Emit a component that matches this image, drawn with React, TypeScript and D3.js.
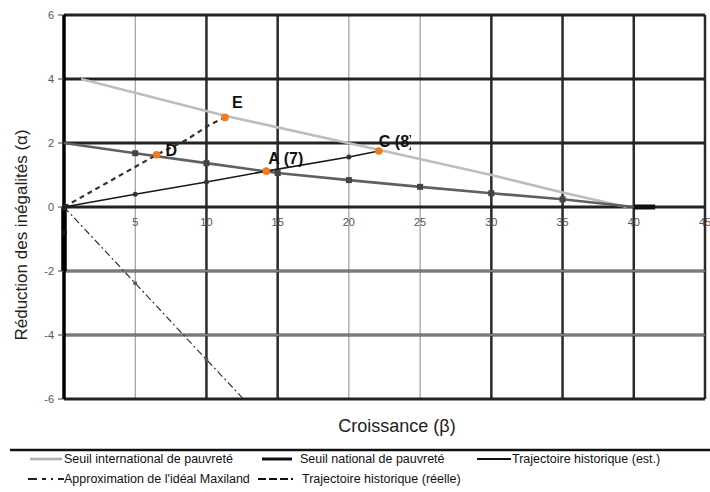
import React from "react";
import * as d3 from "d3";

const xTicks = [5, 10, 15, 20, 25, 30, 35, 40, 45];
const yTicks = [-6, -4, -2, 0, 2, 4, 6];
const thickVertical = [10, 15, 30, 35, 40, 45];
const thickHorizontal = [6, 4, 2, 0, -6];

const intlX = [1.2, 11.3, 22, 30, 35, 39.5];
const intlY = [4, 2.85, 1.8, 1.0, 0.45, 0];

const nationalX = [0, 5, 10, 15, 20, 25, 30, 35, 40];
const nationalY = [2, 1.68, 1.37, 1.06, 0.84, 0.63, 0.43, 0.24, 0];

const estX = [0, 5, 10, 14.2, 20, 22.1];
const estY = [0, 0.4, 0.78, 1.12, 1.56, 1.75];

const reelX = [0, 6.5, 8.6, 10.2, 11.3];
const reelY = [0, 1.63, 2.1, 2.56, 2.8];

const maxiX = [0, 5, 10, 12.6];
const maxiY = [0, -2.38, -4.77, -6];

const pointNames = ["A (7)", "C (8)", "D", "E"];
const pointX = [14.2, 22.1, 6.5, 11.3];
const pointY = [1.12, 1.75, 1.63, 2.8];
const labelDx = [2, 0, 9, 7];
const labelDy = [-7, -4, 1, -9];

const legendRow1 = ["Seuil international de pauvreté", "Seuil national de pauvreté", "Trajectoire historique (est.)"];
const legendRow2 = ["Approximation de l'idéal Maxiland", "Trajectoire historique (réelle)"];

const FONT = "Liberation Sans, Arial, sans-serif";

export default function App() {
  const x = d3.scaleLinear().domain([0, 45]).range([64, 705]);
  const y = d3.scaleLinear().domain([-6, 6]).range([399, 15]);
  const line = d3.line<[number, number]>().x((d) => x(d[0])).y((d) => y(d[1]));
  const zip = (a: number[], b: number[]) => a.map((v, i) => [v, b[i]] as [number, number]);

  const intl = zip(intlX, intlY);
  const nat = zip(nationalX, nationalY);
  const est = zip(estX, estY);
  const reel = zip(reelX, reelY);
  const maxi = zip(maxiX, maxiY);

  return (
    <svg width={710} height={492} style={{ position: "absolute", left: 0, top: 0, background: "#fff" }} fontFamily={FONT}>
      <defs>
        <clipPath id="plotclip">
          <rect x={x(0) - 2} y={y(6) - 2} width={x(45) - x(0) + 6} height={y(-6) - y(6) + 4} />
        </clipPath>
        <clipPath id="cclip">
          <rect x={0} y={0} width={x(25) - 9} height={492} />
        </clipPath>
      </defs>
      {/* vertical gridlines */}
      {xTicks.map((t) => (
        <line key={"v" + t} x1={x(t)} x2={x(t)} y1={y(6)} y2={y(-6)}
          stroke={thickVertical.includes(t) ? "#2a2a2a" : "#888"}
          strokeWidth={thickVertical.includes(t) ? 2.5 : 1} />
      ))}
      {/* horizontal gridlines */}
      {yTicks.map((t) => (
        <line key={"h" + t} x1={x(0)} x2={x(45)} y1={y(t)} y2={y(t)}
          stroke={thickHorizontal.includes(t) ? "#222" : "#444"}
          strokeWidth={3} />
      ))}
      {yTicks.filter((t) => !thickHorizontal.includes(t)).map((t) => (
        <line key={"hw" + t} x1={x(0)} x2={x(45)} y1={y(t)} y2={y(t)} stroke="#ddd" strokeWidth={0.7} />
      ))}
      {/* y axis */}
      <line x1={x(0)} x2={x(0)} y1={y(6)} y2={y(-6)} stroke="#000" strokeWidth={3.5} />
      <line x1={x(0)} x2={x(0)} y1={y(0)} y2={y(-2)} stroke="#000" strokeWidth={5.5} />
      {yTicks.map((t) => (
        <line key={"yt" + t} x1={x(0) - 6} x2={x(0)} y1={y(t)} y2={y(t)} stroke="#444" strokeWidth={1} />
      ))}

      <g clipPath="url(#plotclip)">
        <path d={line(intl) || ""} fill="none" stroke="#bdbdbd" strokeWidth={2.6} />
        <path d={line(nat) || ""} fill="none" stroke="#606060" strokeWidth={2.6} />
        {nat.slice(1, -1).map((d, i) => (
          <rect key={"nm" + i} x={x(d[0]) - 3} y={y(d[1]) - 3} width={6} height={6} fill="#444" />
        ))}
        <path d={line(est) || ""} fill="none" stroke="#1a1a1a" strokeWidth={1.6} />
        {est.slice(1, -1).map((d, i) => (
          <circle key={"em" + i} cx={x(d[0])} cy={y(d[1])} r={2.5} fill="#333" />
        ))}
        <path d={line(reel) || ""} fill="none" stroke="#333" strokeWidth={2.2} strokeDasharray="5,4" />
        <path d={line(maxi) || ""} fill="none" stroke="#333" strokeWidth={1.2} strokeDasharray="7,3,2,3" />
        {maxi.slice(1, -1).map((d, i) => (
          <circle key={"mm" + i} cx={x(d[0])} cy={y(d[1])} r={2} fill="#555" />
        ))}
        <line x1={x(40)} x2={x(41.5)} y1={y(0)} y2={y(0)} stroke="#111" strokeWidth={5} />
        <circle cx={x(0)} cy={y(0)} r={3.5} fill="#222" />
        <circle cx={x(0)} cy={y(-0.8)} r={3} fill="#111" />
      </g>

      {/* highlighted points */}
      {pointNames.map((n, i) => (
        <circle key={"p" + n} cx={x(pointX[i])} cy={y(pointY[i])} r={3.8} fill="#f07a1e" />
      ))}
      {pointNames.map((n, i) => (
        <text key={"pl" + n} x={x(pointX[i]) + labelDx[i]} y={y(pointY[i]) + labelDy[i]}
          fontSize={16} fontWeight="bold" fill="#111"
          clipPath={n.startsWith("C") ? "url(#cclip)" : undefined}>{n}</text>
      ))}

      {/* tick labels */}
      {xTicks.map((t) => (
        <text key={"xl" + t} x={x(t)} y={y(0) + 19} fontSize={11} fill="#555" textAnchor="middle">{t}</text>
      ))}
      {yTicks.map((t) => (
        <text key={"yl" + t} x={x(0) - 10} y={y(t) + 4} fontSize={11} fill="#555" textAnchor="end">{t}</text>
      ))}

      {/* axis titles */}
      <text x={397} y={432} fontSize={18} fill="#222" textAnchor="middle">Croissance (β)</text>
      <text transform="translate(27, 235) rotate(-90)" fontSize={17} fill="#222" textAnchor="middle">Réduction des inégalités (α)</text>

      {/* legend */}
      <line x1={10} x2={710} y1={450} y2={450} stroke="#111" strokeWidth={2.5} />
      <line x1={30} x2={62} y1={459} y2={459} stroke="#b0b0b0" strokeWidth={2.6} />
      <text x={64} y={463} fontSize={12.5} fill="#111">{legendRow1[0]}</text>
      <line x1={262} x2={292} y1={459} y2={459} stroke="#111" strokeWidth={3} />
      <text x={300} y={463} fontSize={12.5} fill="#111">{legendRow1[1]}</text>
      <line x1={477} x2={511} y1={459} y2={459} stroke="#111" strokeWidth={1.8} />
      <text x={512} y={463} fontSize={12.5} fill="#111">{legendRow1[2]}</text>

      <line x1={28} x2={64} y1={479} y2={479} stroke="#222" strokeWidth={2} strokeDasharray="9,5,4,5,2,5" />
      <text x={64} y={483} fontSize={12.5} fill="#111">{legendRow2[0]}</text>
      <line x1={258} x2={294} y1={479} y2={479} stroke="#111" strokeWidth={2.2} strokeDasharray="8,3,8,3,8,3,2" />
      <text x={302} y={483} fontSize={12.5} fill="#111">{legendRow2[1]}</text>
    </svg>
  );
}
